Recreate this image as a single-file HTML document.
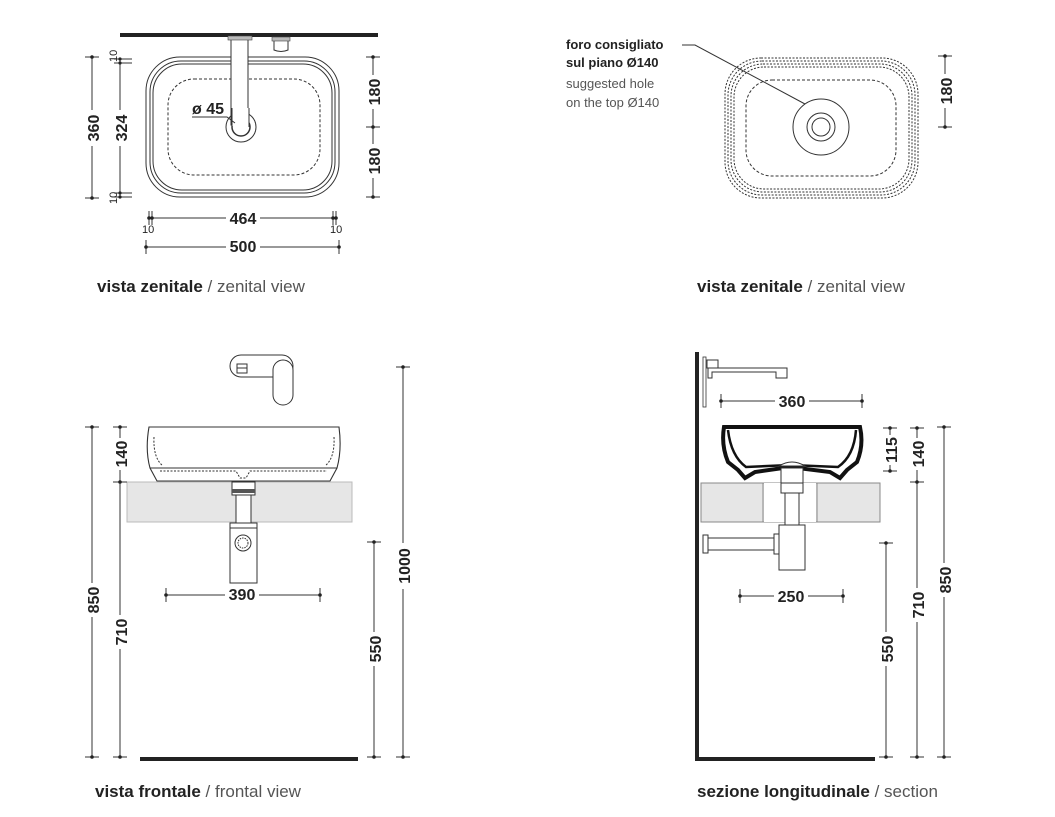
<!DOCTYPE html>
<html><head><meta charset="utf-8"><style>
html,body{margin:0;padding:0;background:#fff;}
svg{display:block;font-family:"Liberation Sans",sans-serif;}
.d{stroke:#333;stroke-width:1;fill:none;}
.t{font-size:16px;fill:#222;font-weight:bold;}
.c{font-size:17px;fill:#222;}
.cl{font-size:17px;fill:#555;}
</style></head><body>
<svg width="1055" height="817" viewBox="0 0 1055 817" xmlns="http://www.w3.org/2000/svg">
<defs>
<g id="tk"><line x1="-7" y1="0" x2="7" y2="0" stroke="#333" stroke-width="1"/><circle r="1.8" fill="#222"/></g>
<g id="tkv"><line x1="0" y1="-7" x2="0" y2="7" stroke="#333" stroke-width="1"/><circle r="1.8" fill="#222"/></g>
</defs>

<!-- ============ TOP LEFT ============ -->
<rect x="120" y="33" width="258" height="4" fill="#222"/>
<rect x="146" y="57" width="193" height="140" rx="34" class="d" stroke-width="1.2"/>
<rect x="150" y="61" width="185" height="132" rx="31" class="d"/>
<rect x="153" y="64" width="179" height="126" rx="29" class="d" stroke-width="0.7"/>
<rect x="168" y="79" width="152" height="96" rx="26" class="d" stroke-dasharray="3,2" stroke-width="0.8"/>
<rect x="231" y="37" width="17" height="88" fill="#fff" stroke="#333"/>
<rect x="228" y="36" width="24" height="4" fill="#bbb" stroke="#444" stroke-width="0.6"/>
<path d="M274 40 h14 v10 q-7 3 -14 0 z" fill="#fff" stroke="#333"/>
<rect x="272" y="37" width="18" height="4" fill="#bbb" stroke="#444" stroke-width="0.6"/>
<circle cx="241" cy="127" r="15" class="d" stroke-width="1.2"/>
<circle cx="241" cy="127" r="9" fill="#fff" stroke="#333" stroke-width="1.5"/>
<rect x="232" y="108" width="17" height="18" fill="#fff"/>
<line x1="232" y1="108" x2="232" y2="127" stroke="#333"/><line x1="249" y1="108" x2="249" y2="127" stroke="#333"/>
<text x="192" y="114" class="t">ø 45</text>
<polyline points="192,117 227,117 235,123" class="d"/>
<line x1="92" y1="57" x2="92" y2="198" class="d"/>
<use href="#tk" x="92" y="57"/><use href="#tk" x="92" y="198"/>
<rect x="82" y="110" width="20" height="36" fill="#fff"/>
<text class="t" transform="translate(99,128) rotate(-90)" text-anchor="middle">360</text>
<line x1="120" y1="58" x2="120" y2="198" class="d"/>
<line x1="114" y1="59" x2="132" y2="59" class="d"/><line x1="114" y1="63" x2="132" y2="63" class="d"/>
<line x1="114" y1="193" x2="132" y2="193" class="d"/><line x1="114" y1="197" x2="132" y2="197" class="d"/>
<circle cx="120" cy="59" r="1.6" fill="#222"/><circle cx="120" cy="63" r="1.6" fill="#222"/>
<circle cx="120" cy="193" r="1.6" fill="#222"/><circle cx="120" cy="197" r="1.6" fill="#222"/>
<rect x="110" y="110" width="20" height="36" fill="#fff"/>
<text class="t" transform="translate(127,128) rotate(-90)" text-anchor="middle">324</text>
<text transform="translate(117,62) rotate(-90)" style="font-size:11px;fill:#222">10</text>
<text transform="translate(117,204) rotate(-90)" style="font-size:11px;fill:#222">10</text>
<line x1="373" y1="57" x2="373" y2="197" class="d"/>
<use href="#tk" x="373" y="57"/><use href="#tk" x="373" y="127"/><use href="#tk" x="373" y="197"/>
<rect x="363" y="75" width="20" height="34" fill="#fff"/><rect x="363" y="144" width="20" height="34" fill="#fff"/>
<text class="t" transform="translate(380,92) rotate(-90)" text-anchor="middle">180</text>
<text class="t" transform="translate(380,161) rotate(-90)" text-anchor="middle">180</text>
<line x1="149" y1="218" x2="336" y2="218" class="d"/>
<use href="#tkv" x="149" y="218"/><use href="#tkv" x="152" y="218"/>
<use href="#tkv" x="333" y="218"/><use href="#tkv" x="336" y="218"/>
<rect x="226" y="209" width="34" height="16" fill="#fff"/>
<text x="243" y="224" class="t" text-anchor="middle">464</text>
<text x="142" y="233" style="font-size:11px;fill:#222">10</text>
<text x="330" y="233" style="font-size:11px;fill:#222">10</text>
<line x1="146" y1="247" x2="339" y2="247" class="d"/>
<use href="#tkv" x="146" y="247"/><use href="#tkv" x="339" y="247"/>
<rect x="226" y="238" width="34" height="16" fill="#fff"/>
<text x="243" y="252" class="t" text-anchor="middle">500</text>
<text x="97" y="292" class="c"><tspan font-weight="bold">vista zenitale</tspan><tspan fill="#555"> / zenital view</tspan></text>

<!-- ============ TOP RIGHT ============ -->
<g class="d" stroke-dasharray="2,1.5" stroke-width="0.8">
<rect x="725" y="58" width="193" height="140" rx="36"/>
<rect x="728" y="61" width="187" height="134" rx="34"/>
<rect x="731" y="64" width="181" height="128" rx="32"/>
<rect x="734" y="67" width="175" height="122" rx="30"/>
<rect x="746" y="80" width="150" height="96" rx="26" stroke-dasharray="3,2"/>
</g>
<circle cx="821" cy="127" r="28" class="d" stroke-width="1.3"/>
<circle cx="821" cy="127" r="14" class="d"/>
<circle cx="821" cy="127" r="9" class="d"/>
<polyline points="682,45 695,45 805,104" class="d"/>
<text x="566" y="49" style="font-size:13px;font-weight:bold;fill:#222">foro consigliato</text>
<text x="566" y="67" style="font-size:13px;font-weight:bold;fill:#222">sul piano Ø140</text>
<text x="566" y="88" style="font-size:13px;fill:#555">suggested hole</text>
<text x="566" y="107" style="font-size:13px;fill:#555">on the top Ø140</text>
<line x1="945" y1="56" x2="945" y2="127" class="d"/>
<use href="#tk" x="945" y="56"/><use href="#tk" x="945" y="127"/>
<rect x="935" y="74" width="20" height="34" fill="#fff"/>
<text class="t" transform="translate(952,91) rotate(-90)" text-anchor="middle">180</text>
<text x="697" y="292" class="c"><tspan font-weight="bold">vista zenitale</tspan><tspan fill="#555"> / zenital view</tspan></text>

<!-- ============ BOTTOM LEFT ============ -->
<rect x="127" y="482" width="225" height="40" fill="#e6e6e6" stroke="#bbb"/>
<rect x="230" y="355" width="63" height="22" rx="11" class="d"/>
<rect x="273" y="360" width="20" height="45" rx="10" fill="#fff" stroke="#333"/>
<rect x="237" y="364" width="10" height="9" class="d"/>
<line x1="237" y1="368" x2="247" y2="368" class="d"/>
<path d="M149 427 L339 427 Q342 450 337 468 L330 481 L157 481 L150 468 Q145 450 149 427 Z" fill="#fff" stroke="#333" stroke-width="1.1"/>
<line x1="150" y1="468" x2="337" y2="468" class="d"/>
<path d="M154 437 Q153 458 163 466 M334 437 Q335 458 325 466" class="d" stroke-dasharray="2,1.5"/>
<path d="M160 471 L236 471 L240 478 L246 478 L250 471 L327 471" class="d" stroke-dasharray="2,1.5"/>
<rect x="232" y="482" width="23" height="13" fill="#fff" stroke="#333"/>
<rect x="232" y="489" width="23" height="4" fill="#555"/>
<rect x="236" y="495" width="15" height="28" fill="#fff" stroke="#333"/>
<rect x="230" y="523" width="27" height="60" fill="#fff" stroke="#333"/>
<line x1="230" y1="528" x2="257" y2="528" class="d"/>
<circle cx="243" cy="543" r="8" class="d"/><circle cx="243" cy="543" r="5" class="d" stroke-dasharray="1.5,1"/>
<rect x="140" y="757" width="218" height="4" fill="#222"/>
<line x1="92" y1="427" x2="92" y2="757" class="d"/>
<use href="#tk" x="92" y="427"/><use href="#tk" x="92" y="757"/>
<rect x="82" y="583" width="20" height="34" fill="#fff"/>
<text class="t" transform="translate(99,600) rotate(-90)" text-anchor="middle">850</text>
<line x1="120" y1="427" x2="120" y2="757" class="d"/>
<use href="#tk" x="120" y="427"/><use href="#tk" x="120" y="482"/><use href="#tk" x="120" y="757"/>
<rect x="110" y="438" width="20" height="32" fill="#fff"/>
<text class="t" transform="translate(127,454) rotate(-90)" text-anchor="middle">140</text>
<rect x="110" y="615" width="20" height="34" fill="#fff"/>
<text class="t" transform="translate(127,632) rotate(-90)" text-anchor="middle">710</text>
<line x1="403" y1="367" x2="403" y2="757" class="d"/>
<use href="#tk" x="403" y="367"/><use href="#tk" x="403" y="757"/>
<rect x="393" y="543" width="20" height="46" fill="#fff"/>
<text class="t" transform="translate(410,566) rotate(-90)" text-anchor="middle">1000</text>
<line x1="374" y1="542" x2="374" y2="757" class="d"/>
<use href="#tk" x="374" y="542"/><use href="#tk" x="374" y="757"/>
<rect x="364" y="632" width="20" height="34" fill="#fff"/>
<text class="t" transform="translate(381,649) rotate(-90)" text-anchor="middle">550</text>
<line x1="166" y1="595" x2="320" y2="595" class="d"/>
<use href="#tkv" x="166" y="595"/><use href="#tkv" x="320" y="595"/>
<rect x="225" y="586" width="34" height="16" fill="#fff"/>
<text x="242" y="600" class="t" text-anchor="middle">390</text>
<text x="95" y="797" class="c"><tspan font-weight="bold">vista frontale</tspan><tspan fill="#555"> / frontal view</tspan></text>

<!-- ============ BOTTOM RIGHT ============ -->
<rect x="695" y="352" width="4" height="409" fill="#222"/>
<rect x="695" y="757" width="180" height="4" fill="#222"/>
<rect x="703" y="357" width="3" height="50" fill="#fff" stroke="#333" stroke-width="0.8"/>
<rect x="707" y="360" width="11" height="8" fill="#fff" stroke="#333"/>
<path d="M708 368 L787 368 L787 378 L776 378 L776 372 L712 372 L712 378 L708 378 Z" fill="#fff" stroke="#333"/>
<line x1="721" y1="401" x2="862" y2="401" class="d"/>
<use href="#tkv" x="721" y="401"/><use href="#tkv" x="862" y="401"/>
<rect x="775" y="392" width="34" height="16" fill="#fff"/>
<text x="792" y="407" class="t" text-anchor="middle">360</text>
<rect x="701" y="483" width="179" height="39" fill="#e6e6e6" stroke="#888"/>
<line x1="763" y1="483" x2="763" y2="522" stroke="#888"/><line x1="817" y1="483" x2="817" y2="522" stroke="#888"/>
<rect x="764" y="483" width="52" height="39" fill="#fff"/>
<path d="M724 427 L860 427 Q864 445 857 462 L847 470 L840 478 L830 472 L790 467 L755 472 L745 478 L738 470 L728 462 Q721 445 724 427 Z" fill="none" stroke="#111" stroke-width="4"/>
<path d="M728 430 Q731 456 746 467 L790 465 L838 467 Q854 456 856 430" fill="none" stroke="#111" stroke-width="2.5"/>
<path d="M779 466 q13 -8 26 0 z" fill="#fff" stroke="#333"/>
<rect x="781" y="468" width="22" height="16" fill="#fff" stroke="#333"/>
<rect x="781" y="483" width="22" height="10" fill="#fff" stroke="#333"/>
<rect x="785" y="493" width="14" height="32" fill="#fff" stroke="#333"/>
<rect x="779" y="525" width="26" height="45" fill="#fff" stroke="#333"/>
<rect x="703" y="535" width="5" height="18" fill="#fff" stroke="#333"/>
<rect x="708" y="538" width="70" height="12" fill="#fff" stroke="#333"/>
<rect x="774" y="534" width="5" height="20" fill="#fff" stroke="#333"/>
<line x1="740" y1="596" x2="843" y2="596" class="d"/>
<use href="#tkv" x="740" y="596"/><use href="#tkv" x="843" y="596"/>
<rect x="774" y="587" width="34" height="16" fill="#fff"/>
<text x="791" y="602" class="t" text-anchor="middle">250</text>
<line x1="890" y1="428" x2="890" y2="471" class="d"/>
<use href="#tk" x="890" y="428"/><use href="#tk" x="890" y="471"/>
<rect x="880" y="435" width="20" height="30" fill="#fff"/>
<text class="t" transform="translate(897,450) rotate(-90)" text-anchor="middle">115</text>
<line x1="917" y1="428" x2="917" y2="757" class="d"/>
<use href="#tk" x="917" y="428"/><use href="#tk" x="917" y="482"/><use href="#tk" x="917" y="757"/>
<rect x="907" y="438" width="20" height="32" fill="#fff"/>
<text class="t" transform="translate(924,454) rotate(-90)" text-anchor="middle">140</text>
<rect x="907" y="588" width="20" height="34" fill="#fff"/>
<text class="t" transform="translate(924,605) rotate(-90)" text-anchor="middle">710</text>
<line x1="944" y1="427" x2="944" y2="757" class="d"/>
<use href="#tk" x="944" y="427"/><use href="#tk" x="944" y="757"/>
<rect x="934" y="563" width="20" height="34" fill="#fff"/>
<text class="t" transform="translate(951,580) rotate(-90)" text-anchor="middle">850</text>
<line x1="886" y1="543" x2="886" y2="757" class="d"/>
<use href="#tk" x="886" y="543"/><use href="#tk" x="886" y="757"/>
<rect x="876" y="632" width="20" height="34" fill="#fff"/>
<text class="t" transform="translate(893,649) rotate(-90)" text-anchor="middle">550</text>
<text x="697" y="797" class="c"><tspan font-weight="bold">sezione longitudinale</tspan><tspan fill="#555"> / section</tspan></text>
</svg>
</body></html>
